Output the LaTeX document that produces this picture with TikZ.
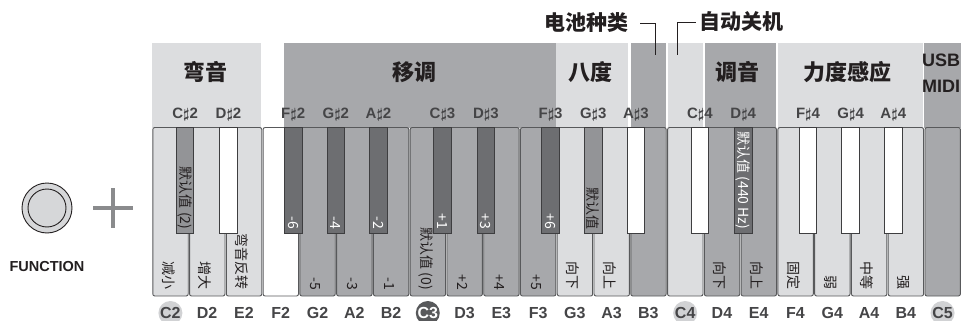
\documentclass[tikz,border=0pt]{standalone}
\usepackage{fontspec}
\setmainfont{Liberation Sans}
\newfontfamily\cjk{Noto Sans CJK SC}
\newcommand{\sh}{{\boldmath$\sharp$}}

\definecolor{ink}{HTML}{231F20}
\definecolor{notegray}{HTML}{454547}
\definecolor{bandlight}{HTML}{DCDDDF}
\definecolor{banddark}{HTML}{A7A8AB}
\definecolor{keylight}{HTML}{DCDDDF}
\definecolor{keymid}{HTML}{A7A8AB}
\definecolor{blackmid}{HTML}{939497}
\definecolor{blackdark}{HTML}{6D6E71}
\definecolor{keyline}{HTML}{58595B}
\definecolor{circlight}{HTML}{D1D2D4}
\definecolor{circdark}{HTML}{58595B}
\definecolor{btnfill}{HTML}{D6D7D9}
\definecolor{plusgray}{HTML}{8A8B8D}

\begin{document}
\begin{tikzpicture}[x=1pt, y=-1pt,
    whitekey/.style={draw=keyline, line width=0.9pt, rounded corners=2pt},
    blackkey/.style={draw=keyline!70!black, line width=0.9pt},
    bandlab/.style={font=\cjk\bfseries\fontsize{22}{22}\selectfont, text=ink},
    toplab/.style={font=\cjk\bfseries\fontsize{21}{21}\selectfont, text=ink, inner sep=0pt},
    notelab/.style={font=\bfseries\fontsize{15}{15}\selectfont, text=notegray},
    bottomlab/.style={font=\bfseries\fontsize{16}{16}\selectfont, text=notegray},
    hl/.style={circle, fill=circlight, inner sep=0pt, minimum size=24pt},
    plain/.style={},
    keylab/.style={font=\cjk\fontsize{14}{14}\selectfont, rotate=-90, anchor=east, inner sep=0pt, text=ink},
    usblab/.style={font=\bfseries\fontsize{18}{18}\selectfont, text=ink, anchor=west, inner sep=0pt},
    leader/.style={draw=ink, line width=0.9pt},
    plusline/.style={draw=plusgray, line width=3.2pt}
]
    \useasboundingbox (0,0) rectangle (961,321);

    %% Function bands

    % Bands behind the keys
    \fill[bandlight] (152,43) rectangle (261,128);
    \fill[banddark] (284,43) rectangle (556,128);
    \fill[bandlight] (556,43) rectangle (628,128);
    \fill[banddark] (631,43) rectangle (666,128);
    \fill[bandlight] (667.5,43) rectangle (703,128);
    \fill[banddark] (705,43) rectangle (776,128);
    \fill[bandlight] (778,43) rectangle (922.5,128);
    \fill[banddark] (924,43) rectangle (961,128);

    % Band names
    \node[bandlab] (bend) at (205,72) {弯音};
    \node[bandlab] (transpose) at (414,72) {移调};
    \node[bandlab] (octave) at (590,72) {八度};
    \node[bandlab] (tuning) at (737,72) {调音};
    \node[bandlab] (touch) at (847,72) {力度感应};
    \node[usblab] (usb) at (922,60) {USB};
    \node[usblab] (midi) at (922,86) {MIDI};

    % Battery and auto power off
    \node[toplab] (battery) at (586,23) {电池种类};
    \node[toplab] (autooff) at (741,22) {自动关机};
    \coordinate (batterypin) at (655,55);
    \coordinate (autooffpin) at (677,55);
    \draw[leader] ([xshift=12pt]battery.east) -| (batterypin);
    \draw[leader] ([xshift=-3pt]autooff.west) -| (autooffpin);

    %% Keyboard

    % White keys
    \foreach \c [count=\i from 0] in {keylight,keylight,keylight,white,keymid,keymid,keymid,keymid,keymid,keymid,keymid,keylight,keylight,keymid,keylight,keymid,keymid,keylight,keylight,keylight,keylight,keymid}
        \draw[whitekey, fill=\c] ({152.8+\i*36.77}, 127.5) rectangle ({188.2+\i*36.77}, 296);

    % Black keys
    \foreach \p/\c in {0.9/blackmid, 2.08/white, 3.84/blackdark, 5/blackdark, 6.16/blackdark, 7.9/blackdark, 9.08/blackdark, 10.84/blackdark, 12/blackmid, 13.16/white, 14.9/white, 16.08/blackdark, 17.84/white, 19/white, 20.16/white}
        \draw[blackkey, fill=\c] ({152+\p*36.77-8.75}, 127.5) rectangle ({152+\p*36.77+8.75}, 233);

    % Sharp names
    \foreach \p/\n/\o in {0.9/C/2, 2.08/D/2, 3.84/F/2, 5/G/2, 6.16/A/2, 7.9/C/3, 9.08/D/3, 10.84/F/3, 12/G/3, 13.16/A/3, 14.9/C/4, 16.08/D/4, 17.84/F/4, 19/G/4, 20.16/A/4}
        \node[notelab] (n\n\o) at ({152+\p*36.77}, 115) {\n\sh\o};

    % Labels on white keys
    \foreach \i/\t in {0/减小, 1/增大, 2/弯音反转, 4/-5, 5/-3, 6/-1, 7/默认值 (0), 8/+2, 9/+4, 10/+5, 11/向下, 12/向上, 15/向下, 16/向上, 17/固定, 18/弱, 19/中等, 20/强}
        \node[keylab] (w\i) at ({168.4+\i*36.77}, 290) {\t};

    % Labels on black keys
    \foreach \p/\t/\c [count=\j] in {0.9/默认值 (2)/ink, 3.84/-6/white, 5/-4/white, 6.16/-2/white, 7.9/+1/white, 9.08/+3/white, 10.84/+6/white, 12/默认值/ink, 16.08/默认值 (440 Hz)/white}
        \node[keylab, text=\c] (k\j) at ({152+\p*36.77}, 229.5) {\t};

    % White key names
    \foreach \n/\s [count=\i from 0] in {C2/hl, D2/plain, E2/plain, F2/plain, G2/plain, A2/plain, B2/plain, C3/plain, D3/plain, E3/plain, F3/plain, G3/plain, A3/plain, B3/plain, C4/hl, D4/plain, E4/plain, F4/plain, G4/plain, A4/plain, B4/plain, C5/hl}
        \node[bottomlab, \s] (b\n) at ({170.4+\i*36.77}, 313) {\n};
    \node[bottomlab, hl, fill=circdark, text=white] (bC3) at ({170.4+7*36.77}, 313) {C3};

    %% FUNCTION button

    % Button
    \draw[draw=ink, fill=btnfill, line width=0.9pt] (47,208) circle (25pt);
    \draw[draw=ink, fill=btnfill, line width=0.9pt] (47,208) circle (19pt);
    \node[font=\bfseries\fontsize{14.5}{14.5}\selectfont, text=ink] (function) at (47,267) {FUNCTION};

    % Plus
    \draw[plusline] (93,208) -- (133,208);
    \draw[plusline] (113,188) -- (113,228);

\end{tikzpicture}
\end{document}
